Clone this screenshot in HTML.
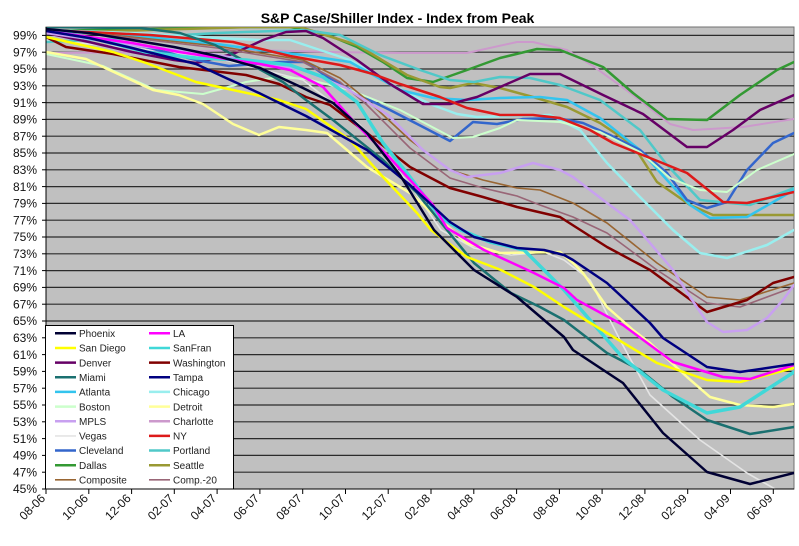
<!DOCTYPE html>
<html><head><meta charset="utf-8"><style>
html,body{margin:0;padding:0;background:#fff;}
svg{display:block;font-family:"Liberation Sans",Arial,sans-serif;}
</style></head><body>
<svg width="799" height="546" viewBox="0 0 799 546" xmlns="http://www.w3.org/2000/svg">
<defs><clipPath id="pc"><rect x="46" y="27" width="748" height="462"/></clipPath></defs>
<rect x="0" y="0" width="799" height="546" fill="#fff"/>
<text x="397.5" y="23" font-size="14" font-weight="bold" text-anchor="middle" fill="#000">S&amp;P Case/Shiller Index - Index from Peak</text>
<rect x="46" y="27" width="748" height="462" fill="#c0c0c0" stroke="#707070" stroke-width="1"/>
<g stroke="#2b2b2b" stroke-width="1.2">
<line x1="46" x2="794" y1="35.4" y2="35.4"/><line x1="46" x2="794" y1="52.2" y2="52.2"/><line x1="46" x2="794" y1="69" y2="69"/><line x1="46" x2="794" y1="85.8" y2="85.8"/><line x1="46" x2="794" y1="102.6" y2="102.6"/><line x1="46" x2="794" y1="119.4" y2="119.4"/><line x1="46" x2="794" y1="136.2" y2="136.2"/><line x1="46" x2="794" y1="153" y2="153"/><line x1="46" x2="794" y1="169.8" y2="169.8"/><line x1="46" x2="794" y1="186.6" y2="186.6"/><line x1="46" x2="794" y1="203.4" y2="203.4"/><line x1="46" x2="794" y1="220.2" y2="220.2"/><line x1="46" x2="794" y1="237" y2="237"/><line x1="46" x2="794" y1="253.8" y2="253.8"/><line x1="46" x2="794" y1="270.6" y2="270.6"/><line x1="46" x2="794" y1="287.4" y2="287.4"/><line x1="46" x2="794" y1="304.2" y2="304.2"/><line x1="46" x2="794" y1="321" y2="321"/><line x1="46" x2="794" y1="337.8" y2="337.8"/><line x1="46" x2="794" y1="354.6" y2="354.6"/><line x1="46" x2="794" y1="371.4" y2="371.4"/><line x1="46" x2="794" y1="388.2" y2="388.2"/><line x1="46" x2="794" y1="405" y2="405"/><line x1="46" x2="794" y1="421.8" y2="421.8"/><line x1="46" x2="794" y1="438.6" y2="438.6"/><line x1="46" x2="794" y1="455.4" y2="455.4"/><line x1="46" x2="794" y1="472.2" y2="472.2"/>
</g>
<g clip-path="url(#pc)" fill="none" stroke-linejoin="round" stroke-linecap="round">
<polyline stroke="#e4e4e4" stroke-width="1.6" points="46,40 132,48 217,58 303,80 360,125 410,185 441,230 474,248 511,255 544,252 564,260 590,280 620,340 650,395 700,440 747,473 775,489"/>
<polyline stroke="#cc99cc" stroke-width="2" points="46,53 150,52 250,50 330,52 400,53 467,53 517,42 533,42 567,50 593,66 633,95 670,124 693,130 710,129 743,127 794,119"/>
<polyline stroke="#339933" stroke-width="2.5" points="46,31 150,29 250,27 290,27 323,33 357,47 383,62 407,78 433,82 467,70 500,58 537,49 560,50 603,67 633,93 667,119 707,120 740,95 777,70 794,62"/>
<polyline stroke="#999933" stroke-width="2.5" points="46,33 150,30 250,27 300,27 357,45 407,75 440,87 450,88 473,83 500,88 533,97 567,107 600,123 633,145 657,182 690,205 713,215 794,215"/>
<polyline stroke="#50c8c8" stroke-width="2.5" points="46,42 132,38 217,33 303,30 340,35 380,55 420,70 450,80 474,82 500,77 530,78 560,85 600,100 640,130 667,165 700,200 750,205 794,188"/>
<polyline stroke="#99eeee" stroke-width="2.5" points="46,30 132,33 217,38 260,40 290,40 350,60 390,84 430,104 457,114 477,117 550,115 580,130 607,163 640,197 673,230 700,253 727,258 767,245 794,230"/>
<polyline stroke="#33c4ee" stroke-width="2.5" points="46,30 132,36 217,44 260,50 303,55 350,62 400,90 433,98 467,100 500,98 540,97 567,100 600,118 640,150 667,180 690,205 710,218 747,217 794,190"/>
<polyline stroke="#660066" stroke-width="2.5" points="46,33 89,42 132,52 174,60 196,63 233,54 263,40 286,32 306,31 323,38 357,60 390,84 423,104 450,104 477,97 507,84 530,74 560,74 603,95 643,114 687,147 707,147 733,130 760,110 794,95"/>
<polyline stroke="#3366cc" stroke-width="2.5" points="46,30 146,47 196,60 229,66 279,62 306,62 323,74 357,94 390,110 423,127 450,141 473,122 497,124 523,119 557,118 583,123 610,135 640,150 667,173 687,200 707,208 727,202 747,170 773,143 794,133"/>
<polyline stroke="#ccffcc" stroke-width="2" points="46,54 103,66 156,90 203,94 246,82 279,77 306,79 350,90 400,110 453,138 473,137 500,128 517,120 560,122 600,132 640,152 670,178 700,190 727,192 757,170 794,154"/>
<polyline stroke="#dd1a1a" stroke-width="2.5" points="46,30 150,35 233,42 290,56 340,65 373,74 400,84 440,97 467,108 500,115 533,115 560,118 590,130 613,143 650,158 687,173 723,202 747,203 794,192"/>
<polyline stroke="#996633" stroke-width="1.6" points="46,29 132,37 217,46 303,60 340,78 367,100 410,140 450,170 483,180 517,188 540,190 573,203 607,223 657,263 707,297 740,300 794,283"/>
<polyline stroke="#996677" stroke-width="1.6" points="46,29 132,38 217,48 303,62 340,82 367,105 410,148 450,178 483,188 517,196 540,205 573,217 607,233 657,270 707,303 740,307 794,287"/>
<polyline stroke="#800000" stroke-width="2.5" points="46,37 66,47 113,54 179,67 246,75 279,84 306,97 330,105 367,133 410,167 450,188 483,197 517,207 560,217 607,247 650,270 707,312 747,300 773,283 794,277"/>
<polyline stroke="#c8a0f0" stroke-width="2.5" points="46,33 132,45 217,55 303,70 346,88 388,115 423,150 450,170 467,177 500,173 533,163 560,170 573,177 607,203 630,220 650,243 673,270 690,297 707,322 723,332 747,330 767,318 783,300 794,285"/>
<polyline stroke="#ffff99" stroke-width="2.5" points="46,52 86,59 103,67 153,90 179,95 203,104 233,124 259,135 279,127 306,130 327,133 367,167 410,193 440,220 467,243 500,253 560,252 573,263 583,273 607,307 633,330 650,343 687,377 710,397 740,405 773,407 794,404"/>
<polyline stroke="#1a7070" stroke-width="2.5" points="46,27 140,28 180,33 215,45 250,64 283,82 306,100 333,120 383,160 417,193 447,230 474,263 511,293 540,307 564,320 607,353 640,370 673,397 707,420 750,434 794,427"/>
<polyline stroke="#40d8d8" stroke-width="3.5" points="46,30 100,40 146,52 196,58 246,60 290,65 323,77 357,102 383,143 410,177 440,217 461,230 490,242 524,250 544,270 564,290 590,320 623,358 663,390 707,413 740,407 794,372"/>
<polyline stroke="#ffff00" stroke-width="2.5" points="46,37 113,52 146,63 196,82 233,90 279,100 306,109 350,140 383,177 417,213 431,230 467,257 501,270 534,287 564,307 607,333 657,363 707,380 740,382 794,368"/>
<polyline stroke="#ff00ff" stroke-width="2.5" points="46,31 132,43 179,52 260,64 290,70 323,87 357,125 390,158 433,205 447,228 484,250 534,273 564,288 577,300 623,325 673,362 723,377 750,379 794,365"/>
<polyline stroke="#000080" stroke-width="2.5" points="46,31 89,38 132,48 196,64 226,78 259,93 306,116 367,150 410,185 450,222 474,237 517,248 544,250 564,255 573,260 607,283 650,323 663,338 707,367 740,372 794,364"/>
<polyline stroke="#000033" stroke-width="2.5" points="46,29 89,33 132,40 174,47 217,56 260,68 303,88 333,103 367,133 400,175 434,230 474,270 517,297 564,337 573,350 623,383 663,433 707,472 750,484 794,473"/>
</g>
<line x1="46" y1="27" x2="46" y2="489" stroke="#000" stroke-width="1"/>
<line x1="46" y1="489" x2="794" y2="489" stroke="#000" stroke-width="1"/>
<g stroke="#000" stroke-width="1">
<line x1="42" x2="46" y1="35.4" y2="35.4"/><line x1="42" x2="46" y1="52.2" y2="52.2"/><line x1="42" x2="46" y1="69" y2="69"/><line x1="42" x2="46" y1="85.8" y2="85.8"/><line x1="42" x2="46" y1="102.6" y2="102.6"/><line x1="42" x2="46" y1="119.4" y2="119.4"/><line x1="42" x2="46" y1="136.2" y2="136.2"/><line x1="42" x2="46" y1="153" y2="153"/><line x1="42" x2="46" y1="169.8" y2="169.8"/><line x1="42" x2="46" y1="186.6" y2="186.6"/><line x1="42" x2="46" y1="203.4" y2="203.4"/><line x1="42" x2="46" y1="220.2" y2="220.2"/><line x1="42" x2="46" y1="237" y2="237"/><line x1="42" x2="46" y1="253.8" y2="253.8"/><line x1="42" x2="46" y1="270.6" y2="270.6"/><line x1="42" x2="46" y1="287.4" y2="287.4"/><line x1="42" x2="46" y1="304.2" y2="304.2"/><line x1="42" x2="46" y1="321" y2="321"/><line x1="42" x2="46" y1="337.8" y2="337.8"/><line x1="42" x2="46" y1="354.6" y2="354.6"/><line x1="42" x2="46" y1="371.4" y2="371.4"/><line x1="42" x2="46" y1="388.2" y2="388.2"/><line x1="42" x2="46" y1="405" y2="405"/><line x1="42" x2="46" y1="421.8" y2="421.8"/><line x1="42" x2="46" y1="438.6" y2="438.6"/><line x1="42" x2="46" y1="455.4" y2="455.4"/><line x1="42" x2="46" y1="472.2" y2="472.2"/><line x1="42" x2="46" y1="489" y2="489"/>
<line y1="489" y2="494" x1="46" x2="46"/><line y1="489" y2="494" x1="88.8" x2="88.8"/><line y1="489" y2="494" x1="131.6" x2="131.6"/><line y1="489" y2="494" x1="174.3" x2="174.3"/><line y1="489" y2="494" x1="217.1" x2="217.1"/><line y1="489" y2="494" x1="259.9" x2="259.9"/><line y1="489" y2="494" x1="302.7" x2="302.7"/><line y1="489" y2="494" x1="345.5" x2="345.5"/><line y1="489" y2="494" x1="388.2" x2="388.2"/><line y1="489" y2="494" x1="431" x2="431"/><line y1="489" y2="494" x1="473.8" x2="473.8"/><line y1="489" y2="494" x1="516.6" x2="516.6"/><line y1="489" y2="494" x1="559.4" x2="559.4"/><line y1="489" y2="494" x1="602.1" x2="602.1"/><line y1="489" y2="494" x1="644.9" x2="644.9"/><line y1="489" y2="494" x1="687.7" x2="687.7"/><line y1="489" y2="494" x1="730.5" x2="730.5"/><line y1="489" y2="494" x1="773.3" x2="773.3"/>
</g>
<g font-size="12" fill="#111" text-anchor="end">
<text x="37" y="39.6">99%</text><text x="37" y="56.4">97%</text><text x="37" y="73.2">95%</text><text x="37" y="90">93%</text><text x="37" y="106.8">91%</text><text x="37" y="123.6">89%</text><text x="37" y="140.4">87%</text><text x="37" y="157.2">85%</text><text x="37" y="174">83%</text><text x="37" y="190.8">81%</text><text x="37" y="207.6">79%</text><text x="37" y="224.4">77%</text><text x="37" y="241.2">75%</text><text x="37" y="258">73%</text><text x="37" y="274.8">71%</text><text x="37" y="291.6">69%</text><text x="37" y="308.4">67%</text><text x="37" y="325.2">65%</text><text x="37" y="342">63%</text><text x="37" y="358.8">61%</text><text x="37" y="375.6">59%</text><text x="37" y="392.4">57%</text><text x="37" y="409.2">55%</text><text x="37" y="426">53%</text><text x="37" y="442.8">51%</text><text x="37" y="459.6">49%</text><text x="37" y="476.4">47%</text><text x="37" y="493.2">45%</text>
</g>
<g font-size="12" fill="#111" text-anchor="end">
<text transform="translate(46,499) rotate(-45)">08-06</text>
<text transform="translate(88.8,499) rotate(-45)">10-06</text>
<text transform="translate(131.6,499) rotate(-45)">12-06</text>
<text transform="translate(174.3,499) rotate(-45)">02-07</text>
<text transform="translate(217.1,499) rotate(-45)">04-07</text>
<text transform="translate(259.9,499) rotate(-45)">06-07</text>
<text transform="translate(302.7,499) rotate(-45)">08-07</text>
<text transform="translate(345.5,499) rotate(-45)">10-07</text>
<text transform="translate(388.2,499) rotate(-45)">12-07</text>
<text transform="translate(431,499) rotate(-45)">02-08</text>
<text transform="translate(473.8,499) rotate(-45)">04-08</text>
<text transform="translate(516.6,499) rotate(-45)">06-08</text>
<text transform="translate(559.4,499) rotate(-45)">08-08</text>
<text transform="translate(602.1,499) rotate(-45)">10-08</text>
<text transform="translate(644.9,499) rotate(-45)">12-08</text>
<text transform="translate(687.7,499) rotate(-45)">02-09</text>
<text transform="translate(730.5,499) rotate(-45)">04-09</text>
<text transform="translate(773.3,499) rotate(-45)">06-09</text>
</g>
<rect x="45.5" y="325.5" width="188" height="163.5" fill="#fff" stroke="#000" stroke-width="1"/>
<g stroke-width="2.5" fill="none">
<line x1="55" x2="76" y1="333.3" y2="333.3" stroke="#000033"/>
<line x1="149" x2="170" y1="333.3" y2="333.3" stroke="#ff00ff"/>
<line x1="55" x2="76" y1="348" y2="348" stroke="#ffff00"/>
<line x1="149" x2="170" y1="348" y2="348" stroke="#40d8d8"/>
<line x1="55" x2="76" y1="362.6" y2="362.6" stroke="#660066"/>
<line x1="149" x2="170" y1="362.6" y2="362.6" stroke="#800000"/>
<line x1="55" x2="76" y1="377.3" y2="377.3" stroke="#1a7070"/>
<line x1="149" x2="170" y1="377.3" y2="377.3" stroke="#000080"/>
<line x1="55" x2="76" y1="391.9" y2="391.9" stroke="#33c4ee"/>
<line x1="149" x2="170" y1="391.9" y2="391.9" stroke="#99eeee"/>
<line x1="55" x2="76" y1="406.6" y2="406.6" stroke="#ccffcc"/>
<line x1="149" x2="170" y1="406.6" y2="406.6" stroke="#ffff99"/>
<line x1="55" x2="76" y1="421.2" y2="421.2" stroke="#c8a0f0"/>
<line x1="149" x2="170" y1="421.2" y2="421.2" stroke="#cc99cc"/>
<line x1="55" x2="76" y1="435.9" y2="435.9" stroke="#e4e4e4" stroke-width="1.6"/>
<line x1="149" x2="170" y1="435.9" y2="435.9" stroke="#dd1a1a"/>
<line x1="55" x2="76" y1="450.5" y2="450.5" stroke="#3366cc"/>
<line x1="149" x2="170" y1="450.5" y2="450.5" stroke="#50c8c8"/>
<line x1="55" x2="76" y1="465.2" y2="465.2" stroke="#339933"/>
<line x1="149" x2="170" y1="465.2" y2="465.2" stroke="#999933"/>
<line x1="55" x2="76" y1="479.8" y2="479.8" stroke="#996633" stroke-width="1.6"/>
<line x1="149" x2="170" y1="479.8" y2="479.8" stroke="#996677" stroke-width="1.6"/>
</g>
<g font-size="10" fill="#222">
<text x="79" y="337">Phoenix</text><text x="173" y="337">LA</text>
<text x="79" y="351.7">San Diego</text><text x="173" y="351.7">SanFran</text>
<text x="79" y="366.3">Denver</text><text x="173" y="366.3">Washington</text>
<text x="79" y="381">Miami</text><text x="173" y="381">Tampa</text>
<text x="79" y="395.6">Atlanta</text><text x="173" y="395.6">Chicago</text>
<text x="79" y="410.3">Boston</text><text x="173" y="410.3">Detroit</text>
<text x="79" y="424.9">MPLS</text><text x="173" y="424.9">Charlotte</text>
<text x="79" y="439.6">Vegas</text><text x="173" y="439.6">NY</text>
<text x="79" y="454.2">Cleveland</text><text x="173" y="454.2">Portland</text>
<text x="79" y="468.9">Dallas</text><text x="173" y="468.9">Seattle</text>
<text x="79" y="483.5">Composite</text><text x="173" y="483.5">Comp.-20</text>
</g>
</svg>
</body></html>
